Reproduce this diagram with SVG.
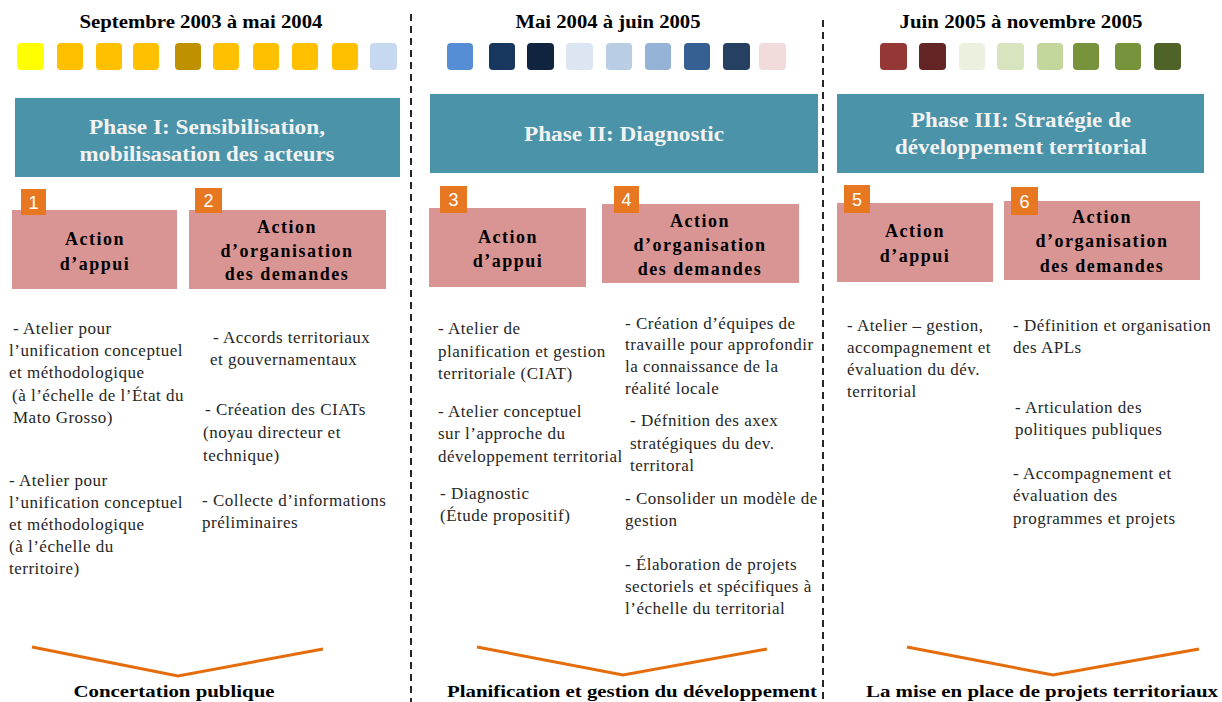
<svg xmlns="http://www.w3.org/2000/svg" width="1222" height="702" viewBox="0 0 1222 702">
<style>
.bg{fill:#ffffff}
.date{font-family:"Liberation Serif","Times New Roman",serif;font-weight:bold;font-size:18px;fill:#000;text-anchor:middle}
.phase{fill:#4A93A8}
.ptxt{font-family:"Liberation Serif","Times New Roman",serif;font-weight:bold;font-size:20px;fill:#F2F2F2;text-anchor:middle}
.act{fill:#D99594}
.atxt{font-family:"Liberation Serif","Times New Roman",serif;font-weight:bold;font-size:18px;fill:#000;text-anchor:middle;letter-spacing:1.5px}
.badge{fill:#E87722}
.btxt{font-family:"Liberation Sans",Arial,sans-serif;font-size:18px;fill:#fff;text-anchor:middle}
.body{font-family:"Liberation Serif","Times New Roman",serif;font-size:17px;letter-spacing:0.5px;fill:#262626}
.sep{stroke:#262626;stroke-width:2;stroke-dasharray:7 5;fill:none}
.chev{stroke:#E46C0A;stroke-width:3;fill:none}
.foot{font-family:"Liberation Serif","Times New Roman",serif;font-weight:bold;font-size:17px;fill:#000;text-anchor:middle}
</style>
<rect class="bg" x="0" y="0" width="1222" height="702"/>

<g id="connectors">
<line class="sep" x1="411" y1="14" x2="411" y2="702"/>
<line class="sep" x1="823" y1="20" x2="823" y2="702"/>
<polyline class="chev" points="32,647 178,676 323,649"/>
<polyline class="chev" points="477,647 623,675 767,649"/>
<polyline class="chev" points="907,647 1053,675 1199,649"/>
</g>

<g id="timeline1">
<text class="date" x="201" y="28" textLength="243" lengthAdjust="spacingAndGlyphs">Septembre 2003 à mai 2004</text>
<rect x="17" y="43" width="27" height="27" rx="4" fill="#FFFF00"/>
<rect x="57" y="43" width="26" height="27" rx="4" fill="#FFC000"/>
<rect x="96" y="43" width="26" height="27" rx="4" fill="#FFC000"/>
<rect x="133" y="43" width="26" height="27" rx="4" fill="#FFC000"/>
<rect x="175" y="43" width="26" height="27" rx="4" fill="#BF9000"/>
<rect x="213" y="43" width="26" height="27" rx="4" fill="#FFC000"/>
<rect x="253" y="43" width="26" height="27" rx="4" fill="#FFC000"/>
<rect x="292" y="43" width="26" height="27" rx="4" fill="#FFC000"/>
<rect x="332" y="43" width="26" height="27" rx="4" fill="#FFC000"/>
<rect x="370" y="43" width="27" height="27" rx="4" fill="#C6D9F1"/>
</g>

<g id="timeline2">
<text class="date" x="608" y="28" textLength="185" lengthAdjust="spacingAndGlyphs">Mai 2004 à juin 2005</text>
<rect x="447" y="43" width="26" height="27" rx="4" fill="#558ED5"/>
<rect x="489" y="43" width="26" height="27" rx="4" fill="#17375E"/>
<rect x="527" y="43" width="27" height="27" rx="4" fill="#10243F"/>
<rect x="566" y="43" width="27" height="27" rx="4" fill="#DCE6F2"/>
<rect x="606" y="43" width="26" height="27" rx="4" fill="#B9CDE5"/>
<rect x="645" y="43" width="26" height="27" rx="4" fill="#95B3D7"/>
<rect x="684" y="43" width="26" height="27" rx="4" fill="#376092"/>
<rect x="723" y="43" width="27" height="27" rx="4" fill="#254061"/>
<rect x="759" y="43" width="27" height="27" rx="4" fill="#F2DCDB"/>
</g>

<g id="timeline3">
<text class="date" x="1021" y="28" textLength="243" lengthAdjust="spacingAndGlyphs">Juin 2005 à novembre 2005</text>
<rect x="880" y="43" width="27" height="27" rx="4" fill="#953735"/>
<rect x="919" y="43" width="27" height="27" rx="4" fill="#632523"/>
<rect x="959" y="43" width="26" height="27" rx="4" fill="#EBF1DE"/>
<rect x="997" y="43" width="27" height="27" rx="4" fill="#D7E4BD"/>
<rect x="1037" y="43" width="26" height="27" rx="4" fill="#C3D69B"/>
<rect x="1073" y="43" width="26" height="27" rx="4" fill="#77933C"/>
<rect x="1115" y="43" width="26" height="27" rx="4" fill="#77933C"/>
<rect x="1154" y="43" width="27" height="27" rx="4" fill="#4F6228"/>
</g>

<g id="phase1">
<rect class="phase" x="15" y="98" width="385" height="79"/>
<text class="ptxt" x="207" y="134" textLength="236" lengthAdjust="spacingAndGlyphs">Phase I: Sensibilisation,</text>
<text class="ptxt" x="207" y="161" textLength="255" lengthAdjust="spacingAndGlyphs">mobilisasation des acteurs</text>
</g>
<g id="phase2">
<rect class="phase" x="430" y="94" width="388" height="79"/>
<text class="ptxt" x="624" y="141" textLength="200" lengthAdjust="spacingAndGlyphs">Phase II: Diagnostic</text>
</g>
<g id="phase3">
<rect class="phase" x="837" y="94" width="367" height="79"/>
<text class="ptxt" x="1021" y="127" textLength="220" lengthAdjust="spacingAndGlyphs">Phase III: Stratégie de</text>
<text class="ptxt" x="1021" y="154" textLength="252" lengthAdjust="spacingAndGlyphs">développement territorial</text>
</g>

<g id="action1">
<rect class="act" x="12" y="210" width="165" height="79"/>
<rect class="badge" x="21" y="189" width="25" height="26"/>
<text class="btxt" x="33.5" y="209">1</text>
<text class="atxt" x="95" y="245">Action</text>
<text class="atxt" x="95" y="270">d’appui</text>
</g>
<g id="action2">
<rect class="act" x="189" y="210" width="197" height="79"/>
<rect class="badge" x="195" y="188" width="27" height="25"/>
<text class="btxt" x="208.5" y="207">2</text>
<text class="atxt" x="287" y="233">Action</text>
<text class="atxt" x="287" y="257">d’organisation</text>
<text class="atxt" x="287" y="280">des demandes</text>
</g>
<g id="action3">
<rect class="act" x="429" y="208" width="157" height="79"/>
<rect class="badge" x="440" y="186" width="27" height="27"/>
<text class="btxt" x="453.5" y="206">3</text>
<text class="atxt" x="508" y="243">Action</text>
<text class="atxt" x="508" y="267">d’appui</text>
</g>
<g id="action4">
<rect class="act" x="602" y="204" width="197" height="79"/>
<rect class="badge" x="614" y="186" width="25" height="27"/>
<text class="btxt" x="626.5" y="206">4</text>
<text class="atxt" x="700" y="227">Action</text>
<text class="atxt" x="700" y="251">d’organisation</text>
<text class="atxt" x="700" y="275">des demandes</text>
</g>
<g id="action5">
<rect class="act" x="837" y="203" width="156" height="79"/>
<rect class="badge" x="844" y="185" width="26" height="28"/>
<text class="btxt" x="857" y="206">5</text>
<text class="atxt" x="915" y="237">Action</text>
<text class="atxt" x="915" y="262">d’appui</text>
</g>
<g id="action6">
<rect class="act" x="1004" y="201" width="196" height="79"/>
<rect class="badge" x="1011" y="187" width="27" height="28"/>
<text class="btxt" x="1024.5" y="208">6</text>
<text class="atxt" x="1102" y="223">Action</text>
<text class="atxt" x="1102" y="247">d’organisation</text>
<text class="atxt" x="1102" y="272">des demandes</text>
</g>

<g id="text1a" class="body">
<text x="13" y="334">- Atelier pour</text>
<text x="9" y="356">l’unification conceptuel</text>
<text x="9" y="378">et méthodologique</text>
<text x="12" y="401">(à l’échelle de l’État du</text>
<text x="13" y="423">Mato Grosso)</text>
<text x="9" y="486">- Atelier pour</text>
<text x="9" y="508">l’unification conceptuel</text>
<text x="9" y="530">et méthodologique</text>
<text x="9" y="552">(à  l’échelle du</text>
<text x="9" y="574">territoire)</text>
</g>
<g id="text1b" class="body">
<text x="213" y="343">- Accords territoriaux</text>
<text x="210" y="365">et gouvernamentaux</text>
<text x="205" y="415">- Créeation des CIATs</text>
<text x="203" y="438">(noyau directeur et</text>
<text x="203" y="461">technique)</text>
<text x="202" y="506">- Collecte d’informations</text>
<text x="202" y="528">préliminaires</text>
</g>
<g id="text2a" class="body">
<text x="438" y="334">- Atelier de</text>
<text x="438" y="357">planification et gestion</text>
<text x="438" y="379">territoriale (CIAT)</text>
<text x="438" y="417">- Atelier conceptuel</text>
<text x="438" y="439">sur l’approche  du</text>
<text x="438" y="462">développement territorial</text>
<text x="440" y="499">- Diagnostic</text>
<text x="440" y="521">(Étude propositif)</text>
</g>
<g id="text2b" class="body">
<text x="625" y="329">- Création d’équipes de</text>
<text x="625" y="350">travaille pour approfondir</text>
<text x="625" y="372">la connaissance de la</text>
<text x="625" y="394">réalité locale</text>
<text x="630" y="426">- Défnition des axex</text>
<text x="630" y="449">stratégiques du dev.</text>
<text x="630" y="471">territoral</text>
<text x="625" y="504">- Consolider un modèle de</text>
<text x="625" y="526">gestion</text>
<text x="625" y="570">- Élaboration de projets</text>
<text x="625" y="592">sectoriels et spécifiques à</text>
<text x="625" y="614">l’échelle du territorial</text>
</g>
<g id="text3a" class="body">
<text x="847" y="331">- Atelier – gestion,</text>
<text x="847" y="353">accompagnement et</text>
<text x="847" y="375">évaluation du dév.</text>
<text x="847" y="397">territorial</text>
</g>
<g id="text3b" class="body">
<text x="1013" y="331">- Définition et organisation</text>
<text x="1013" y="353">des APLs</text>
<text x="1015" y="413">- Articulation des</text>
<text x="1015" y="435">politiques publiques</text>
<text x="1013" y="479">- Accompagnement et</text>
<text x="1013" y="501">évaluation des</text>
<text x="1013" y="524">programmes et projets</text>
</g>

<g id="footer">
<text class="foot" x="174" y="697" textLength="201" lengthAdjust="spacingAndGlyphs">Concertation publique</text>
<text class="foot" x="632" y="697" textLength="370" lengthAdjust="spacingAndGlyphs">Planification et gestion du développement</text>
<text class="foot" x="1042" y="697" textLength="352" lengthAdjust="spacingAndGlyphs">La mise en place de  projets territoriaux</text>
</g>
</svg>
